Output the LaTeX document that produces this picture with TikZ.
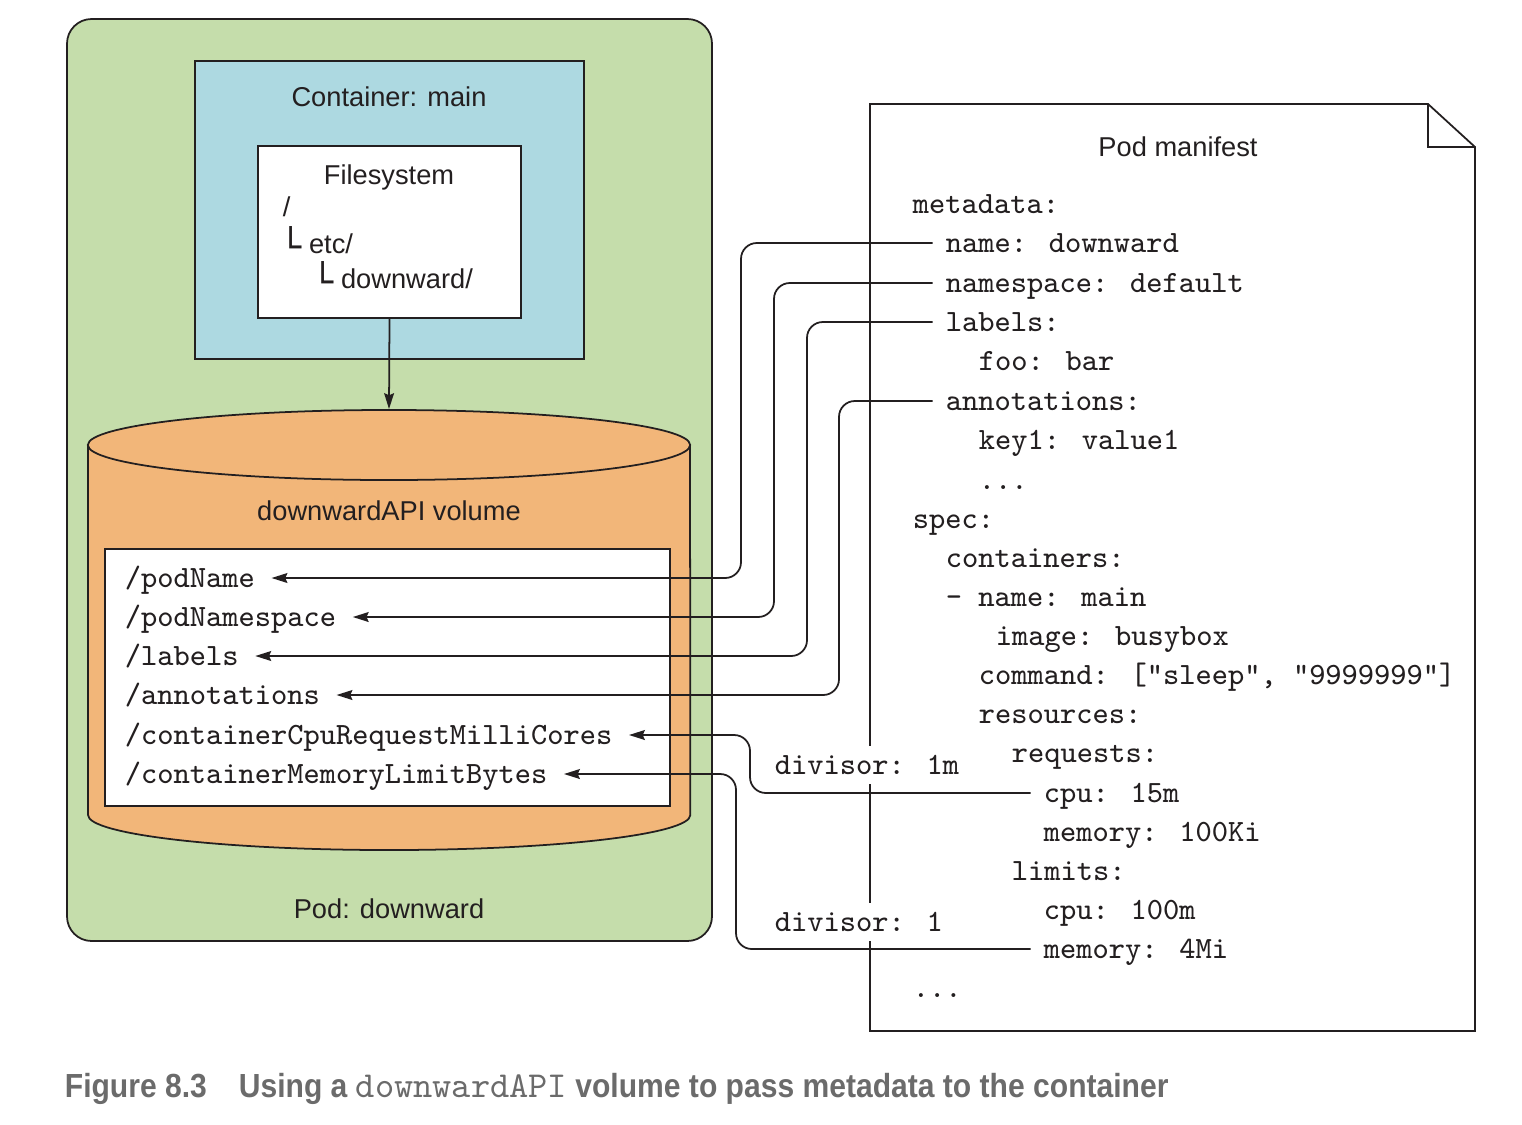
\documentclass[tikz,border=0pt]{standalone}
\usepackage{fontspec}
\setmainfont{Liberation Sans}
\newfontfamily\boxfont{DejaVu Sans}
\newfontfamily\capfont[FakeStretch=0.9]{Liberation Sans}
\usetikzlibrary{arrows.meta}

\definecolor{podgreen}{HTML}{C5DDAB}
\definecolor{ctrblue}{HTML}{ADD9E1}
\definecolor{volorange}{HTML}{F2B679}
\definecolor{inkgray}{HTML}{231F20}
\definecolor{capgray}{HTML}{6B6B6B}

\newcommand{\treebar}{{\boxfont\fontsize{10pt}{10pt}\selectfont\raisebox{-1.8pt}{└}}}

\begin{document}
\begin{tikzpicture}[x=0.01cm,y=-0.01cm,line width=0.5pt,color=inkgray,
    sans/.style={font=\fontsize{7.75pt}{9pt}\selectfont},
    yaml/.style={anchor=west,inner sep=0pt,text height=6pt,text depth=0.8pt,
        font=\ttfamily\fontsize{8.8pt}{10pt}\selectfont},
    divlabel/.style={yaml,fill=white,inner ysep=2pt},
    tip/.style={-{Stealth[length=4.5pt,width=2.8pt,inset=0.6pt]}},
    conn/.style={tip,rounded corners=4.5pt,shorten <=3.5pt,shorten >=4.5pt}]

	\useasboundingbox (0,0) rectangle (1522,1124);

	% pod
	\draw[fill=podgreen,rounded corners=7pt] (67,19) rectangle (712,941);
	\node[sans] (podlbl) at (389,909) {Pod: downward};

	% container
	\draw[fill=ctrblue] (195,61) rectangle (584,359);
	\node[sans] (ctrlbl) at (389,97) {Container: main};
	\node[draw,fill=white,minimum width=2.63cm,minimum height=1.72cm,inner sep=0pt] (fs) at (389.5,232) {};
	\node[sans] (fslbl) at (389,177) {Filesystem};
	\node[sans,anchor=west,inner sep=0pt] (fsroot) at (282,207) {/};
	\node[sans,anchor=west,inner sep=0pt] (fsetc) at (280,243) {\treebar\hspace{2pt}etc/};
	\node[sans,anchor=west,inner sep=0pt] (fsdown) at (312,278) {\treebar\hspace{2pt}downward/};

	% volume
	\draw[fill=volorange] (88,445) -- (88,815) arc[start angle=180,end angle=360,x radius=3.01cm,y radius=0.35cm] -- (690,445) -- cycle;
	\draw[fill=volorange] (389,445) ellipse [x radius=3.01cm,y radius=0.35cm];
	\coordinate (voltop) at (389,409);
	\node[sans] (vollbl) at (389,511) {downwardAPI volume};
	\draw[fill=white] (105,549) rectangle (670,806);
	\draw[tip] (fs.south) -- (voltop);

	\node[yaml] (fpodname) at (124,578) {/podName};
	\node[yaml] (fpodns) at (124,617) {/podNamespace};
	\node[yaml] (flabels) at (124,656) {/labels};
	\node[yaml] (fannot) at (124,695) {/annotations};
	\node[yaml] (fcpu) at (124,735) {/containerCpuRequestMilliCores};
	\node[yaml] (fmem) at (124,774) {/containerMemoryLimitBytes};

	% manifest
	\draw[fill=white] (870,104) -- (1428,104) -- (1475,147) -- (1475,1031) -- (870,1031) -- cycle;
	\draw (1428,104) |- (1475,147);
	\node[sans] (mtitle) at (1178,147) {Pod manifest};
	\node[yaml] (mmeta) at (912,204) {metadata:};
	\node[yaml] (mname) at (945,243) {name: downward};
	\node[yaml] (mns) at (945,283) {namespace: default};
	\node[yaml] (mlabels) at (945,322) {labels:};
	\node[yaml] (mfoo) at (978,361) {foo: bar};
	\node[yaml] (mannot) at (945,401) {annotations:};
	\node[yaml] (mkey) at (978,440) {key1: value1};
	\node[yaml] (mdots) at (978,480) {...};
	\node[yaml] (mspec) at (912,519) {spec:};
	\node[yaml] (mctrs) at (945,558) {containers:};
	\node[yaml] (mcname) at (945,597) {- name: main};
	\node[yaml] (mimage) at (995,636) {image: busybox};
	\node[yaml] (mcmd) at (978,675) {command: ["sleep", "9999999"]};
	\node[yaml] (mres) at (978,714) {resources:};
	\node[yaml] (mreq) at (1011,753) {requests:};
	\node[yaml] (mreqcpu) at (1043,793) {cpu: 15m};
	\node[yaml] (mreqmem) at (1043,832) {memory: 100Ki};
	\node[yaml] (mlim) at (1011,871) {limits:};
	\node[yaml] (mlimcpu) at (1043,910) {cpu: 100m};
	\node[yaml] (mlimmem) at (1043,949) {memory: 4Mi};
	\node[yaml] (mend) at (912,988) {...};

	% connectors
	\draw[conn] (mname.west) -- ++(-204,0) |- (fpodname.east);
	\draw[conn] (mns.west) -- ++(-171,0) |- (fpodns.east);
	\draw[conn] (mlabels.west) -- ++(-138,0) |- (flabels.east);
	\draw[conn] (mannot.west) -- ++(-106,0) |- (fannot.east);
	\draw[conn] (mreqcpu.west) -- ++(-293,0) |- (fcpu.east);
	\draw[conn] (mlimmem.west) -- ++(-307,0) |- (fmem.east);

	\node[divlabel] (divcpu) at (774,765) {divisor: 1m};
	\node[divlabel] (divmem) at (774,922) {divisor: 1};

	% caption
	\node[anchor=west,inner sep=0pt,text=capgray,font=\capfont\bfseries\fontsize{9.5pt}{11pt}\selectfont] (capnum) at (64,1089) {Figure 8.3};
	\node[anchor=west,inner sep=0pt,text=capgray,font=\capfont\bfseries\fontsize{9.5pt}{11pt}\selectfont] (captext) at (238,1089) {Using a {\ttfamily\mdseries\fontsize{10.4pt}{11pt}\selectfont downwardAPI} volume to pass metadata to the container};
\end{tikzpicture}
\end{document}
